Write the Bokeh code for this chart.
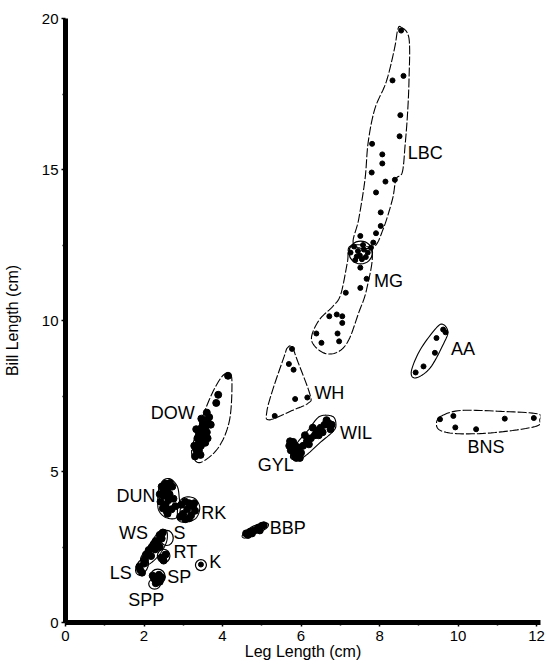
import numpy as np
from bokeh.plotting import figure
from bokeh.models import FixedTicker, Range1d
from bokeh.core.properties import value
from bokeh.embed import file_html
from bokeh.resources import INLINE

FONT = "Liberation Sans"

# ---------------- axis ticks ----------------
x_ticks = [0, 2, 4, 6, 8, 10, 12]
x_minor = [1, 3, 5, 7, 9, 11]
y_ticks = [0, 5, 10, 15, 20]
y_minor = [2.5, 7.5, 12.5, 17.5]

# ---------------- data points (leg length, bill length) ----------------
lbc_x = [8.55, 8.61, 8.33, 8.53, 8.51, 8.07, 8.07, 7.81, 7.80, 8.15, 8.39, 7.91, 8.03, 8.03, 7.91, 7.51, 7.84,
         7.78, 7.26, 7.55, 7.38, 7.45, 7.60, 7.35, 7.50, 7.65, 7.70, 7.42, 7.58]
lbc_y = [19.6, 18.1, 17.95, 16.8, 16.1, 15.5, 15.2, 15.85, 14.9, 14.6, 14.66, 14.24, 13.58, 13.13, 12.89, 12.8, 12.58,
         12.41, 12.25, 12.03, 12.0, 12.3, 12.35, 12.45, 12.15, 12.1, 12.25, 12.12, 12.5]
mg_x = [7.51, 7.67, 7.51, 7.14, 6.72, 6.91, 7.05, 7.05, 6.93, 6.39, 6.52, 6.97]
mg_y = [11.75, 11.38, 11.08, 10.92, 10.14, 10.2, 10.14, 9.92, 9.57, 9.57, 9.26, 9.31]
aa_x = [9.62, 9.45, 9.41, 9.12, 8.92, 9.68]
aa_y = [9.70, 9.42, 8.93, 8.48, 8.28, 9.61]
bns_x = [9.88, 9.54, 9.93, 10.46, 11.19, 11.93]
bns_y = [6.84, 6.73, 6.46, 6.40, 6.75, 6.77]
wh_x = [5.77, 5.69, 5.81, 5.85, 6.16, 5.33]
wh_y = [9.06, 8.56, 8.37, 7.40, 7.45, 6.84]
dow_x = [4.14, 3.89, 3.84, 3.30, 3.35, 3.32, 3.40, 3.38, 3.45, 3.42, 3.50, 3.48, 3.55, 3.40, 3.52, 3.60, 3.47,
         3.58, 3.62, 3.55, 3.66, 3.50, 3.60, 3.36, 3.44, 3.28, 3.33, 3.62, 3.70, 3.46, 3.56]
dow_y = [8.17, 7.54, 7.27, 5.50, 5.62, 5.75, 5.70, 5.90, 5.85, 6.05, 6.00, 6.20, 6.15, 6.25, 6.35, 6.30, 6.45,
         6.50, 6.65, 6.70, 6.80, 6.60, 6.95, 6.10, 5.55, 5.85, 6.40, 6.10, 6.55, 6.75, 5.95]
gyl_x = [5.72, 5.75, 5.80, 5.78, 5.85, 5.90, 5.82, 5.95, 5.88, 6.00, 5.92, 5.74, 5.97, 5.84, 5.70]
gyl_y = [6.00, 5.88, 5.98, 5.75, 5.85, 5.70, 5.60, 5.55, 5.45, 5.62, 5.80, 5.70, 5.45, 5.50, 5.85]
wil_x = [6.05, 6.15, 6.25, 6.35, 6.20, 6.40, 6.50, 6.45, 6.60, 6.55, 6.70, 6.65, 6.30, 6.10, 6.78, 6.75]
wil_y = [5.85, 6.00, 6.10, 6.20, 5.90, 6.35, 6.45, 6.20, 6.55, 6.30, 6.60, 6.70, 6.45, 6.20, 6.55, 6.40]
dun_x = [2.45, 2.55, 2.60, 2.50, 2.65, 2.72, 2.42, 2.55, 2.62, 2.75, 2.48, 2.70, 2.60, 2.80, 2.50, 2.66, 2.58, 2.40]
dun_y = [4.50, 4.60, 4.40, 4.20, 4.25, 4.50, 4.00, 3.90, 4.05, 4.10, 3.78, 3.75, 3.60, 3.85, 4.35, 4.62, 3.68, 4.25]
rk_x = [2.95, 3.05, 3.15, 3.25, 3.10, 3.30, 3.00, 3.20, 3.15, 2.92, 3.28, 3.05]
rk_y = [3.90, 4.00, 3.95, 3.85, 3.75, 3.70, 3.60, 3.55, 3.45, 3.50, 3.95, 3.42]
ws_x = [2.02, 2.10, 2.20, 2.30, 2.40, 2.35, 2.45, 2.18, 2.28, 2.48, 2.12, 2.40, 2.05, 2.25]
ws_y = [2.10, 2.30, 2.50, 2.70, 2.90, 2.60, 2.78, 2.20, 2.42, 2.98, 2.40, 2.50, 2.25, 2.60]
rt_x = [2.45, 2.55, 2.50]
rt_y = [2.15, 2.25, 2.05]
ls_x = [1.90, 2.00, 1.95, 2.02, 1.88]
ls_y = [1.75, 1.95, 1.65, 2.05, 1.85]
k_x = [3.45]
k_y = [1.92]
sp_x = [2.28, 2.38, 2.45, 2.30, 2.40, 2.22]
sp_y = [1.45, 1.58, 1.50, 1.30, 1.35, 1.55]
bbp_x = [4.60, 4.70, 4.80, 4.90, 5.00, 4.75, 4.95, 5.05, 4.65]
bbp_y = [2.95, 3.00, 3.05, 3.12, 3.20, 2.95, 3.05, 3.22, 2.90]

# ---------------- hand-drawn group outlines (vertices) ----------------
lbc_out_x = [8.54, 8.75, 8.75, 8.71, 8.65, 8.58, 8.42, 8.33, 8.09, 7.84, 7.34, 7.47, 7.63, 7.71, 7.88, 8.17, 8.38, 8.46]
lbc_out_y = [19.72, 19.34, 17.95, 16.79, 15.79, 14.91, 14.68, 14.02, 13.02, 12.43, 12.52, 13.36, 14.68, 15.90, 17.01, 17.90, 19.0, 19.61]
mg_out_x = [7.80, 7.67, 7.47, 7.22, 6.97, 6.64, 6.35, 6.27, 6.47, 6.81, 7.01, 7.18, 7.26]
mg_out_y = [12.30, 11.03, 10.26, 9.37, 8.98, 8.90, 9.15, 9.48, 10.03, 10.47, 10.86, 11.92, 12.47]
wh_out_x = [5.77, 5.90, 6.23, 6.19, 5.81, 5.19, 5.13, 5.28, 5.57, 5.65]
wh_out_y = [9.13, 8.70, 7.54, 7.27, 7.04, 6.71, 6.99, 7.71, 8.81, 9.09]
dow_out_x = [4.16, 4.24, 4.18, 3.91, 3.50, 3.29, 3.22, 3.46, 3.74, 3.99]
dow_out_y = [8.24, 7.98, 6.71, 5.82, 5.33, 5.38, 5.77, 6.71, 7.60, 8.15]
wil_out_x = [6.47, 6.81, 6.89, 6.81, 6.47, 6.14, 5.90, 5.73, 5.90, 6.19]
wil_out_y = [6.82, 6.82, 6.54, 6.32, 5.94, 5.55, 5.38, 5.49, 5.94, 6.38]
aa_out_x = [9.62, 9.74, 9.66, 9.29, 8.92, 8.81, 9.04, 9.45]
aa_out_y = [9.87, 9.64, 9.31, 8.43, 8.10, 8.32, 9.04, 9.76]
bns_out_x = [9.58, 10.07, 11.11, 12.02, 12.08, 11.97, 10.94, 10.03, 9.55, 9.45]
bns_out_y = [6.84, 7.02, 6.99, 6.91, 6.71, 6.49, 6.29, 6.25, 6.36, 6.60]
dun_out_x = [2.35, 2.38, 2.50, 2.68, 2.85, 2.90, 2.92, 2.80, 2.55, 2.38]
dun_out_y = [4.00, 4.45, 4.72, 4.75, 4.50, 4.10, 3.70, 3.45, 3.48, 3.70]
rk_out_x = [2.85, 2.88, 3.05, 3.30, 3.42, 3.32, 3.05, 2.88]
rk_out_y = [3.55, 3.95, 4.15, 4.10, 3.80, 3.45, 3.32, 3.38]
bbp_out_x = [4.50, 4.58, 4.80, 5.05, 5.17, 5.10, 4.85, 4.60]
bbp_out_y = [2.85, 3.02, 3.20, 3.30, 3.25, 3.10, 2.95, 2.80]
ws_out_x = [1.95, 1.92, 2.10, 2.30, 2.45, 2.58, 2.58, 2.45, 2.25, 2.05]
ws_out_y = [1.95, 2.15, 2.50, 2.88, 3.07, 3.02, 2.70, 2.35, 2.05, 1.88]

# small circled groups: centre x, centre y, width, height (data units), tilt
ring_x = [7.52, 2.58, 2.50, 1.95, 3.45, 2.35, 2.27]
ring_y = [12.25, 2.80, 2.20, 1.85, 1.90, 1.52, 1.28]
ring_w = [0.60, 0.33, 0.32, 0.28, 0.28, 0.38, 0.30]
ring_h = [0.75, 0.50, 0.45, 0.60, 0.36, 0.50, 0.35]
ring_a = [0.0, 0.0, 0.0, -0.5, 0.0, 0.0, 0.0]

# ---------------- group labels ----------------
label_text = ["LBC", "MG", "AA", "WH", "DOW", "WIL", "GYL", "BNS", "DUN", "RK",
              "WS", "S", "RT", "K", "LS", "SP", "SPP", "BBP"]
label_x = [8.72, 7.86, 9.82, 6.34, 2.17, 6.99, 4.90, 10.24, 1.30, 3.46,
           1.36, 2.75, 2.75, 3.66, 1.13, 2.59, 1.60, 5.20]
label_y = [15.55, 11.3, 9.04, 7.61, 6.94, 6.28, 5.22, 5.81, 4.19, 3.62,
           2.96, 2.96, 2.33, 2.0, 1.63, 1.5, 0.73, 3.12]


def smooth(xs, ys, n=10):
    P = np.column_stack([xs, ys]).astype(float)
    m = len(P)
    out = []
    for i in range(m):
        p0, p1, p2, p3 = P[(i - 1) % m], P[i], P[(i + 1) % m], P[(i + 2) % m]
        for t in np.linspace(0, 1, n, endpoint=False):
            t2, t3 = t * t, t * t * t
            out.append(0.5 * ((2 * p1) + (-p0 + p2) * t + (2 * p0 - 5 * p1 + 4 * p2 - p3) * t2
                              + (-p0 + 3 * p1 - 3 * p2 + p3) * t3))
    out.append(out[0])
    a = np.array(out)
    return a[:, 0].tolist(), a[:, 1].tolist()


p = figure(width=546, height=664, output_backend="svg", toolbar_location=None,
           x_range=Range1d(0, 12.1), y_range=Range1d(0, 20),
           min_border_left=60, min_border_right=6, min_border_top=18, min_border_bottom=42)
p.outline_line_color = None
p.xgrid.visible = False
p.ygrid.visible = False
p.background_fill_color = "white"

# outlines
dashed = [(lbc_out_x, lbc_out_y), (mg_out_x, mg_out_y), (dow_out_x, dow_out_y),
          (wh_out_x, wh_out_y), (bns_out_x, bns_out_y)]
solid = [(wil_out_x, wil_out_y), (aa_out_x, aa_out_y), (dun_out_x, dun_out_y),
         (rk_out_x, rk_out_y), (bbp_out_x, bbp_out_y), (ws_out_x, ws_out_y)]
dx, dy = zip(*[smooth(a, b) for a, b in dashed])
sx, sy = zip(*[smooth(a, b) for a, b in solid])
p.multi_line(list(dx), list(dy), line_color="black", line_width=1.1, line_dash="9 2")
p.multi_line(list(sx), list(sy), line_color="black", line_width=1.1)
p.ellipse(ring_x, ring_y, width=ring_w, height=ring_h, angle=ring_a,
          fill_color=None, line_color="black", line_width=1.2)

# points
sparse_x = lbc_x + mg_x + aa_x + bns_x + wh_x + k_x
sparse_y = lbc_y + mg_y + aa_y + bns_y + wh_y + k_y
dense_x = dow_x + gyl_x + wil_x + dun_x + rk_x + ws_x + rt_x + ls_x + sp_x + bbp_x
dense_y = dow_y + gyl_y + wil_y + dun_y + rk_y + ws_y + rt_y + ls_y + sp_y + bbp_y
p.scatter(sparse_x, sparse_y, marker="circle", size=5, color="black")
p.scatter(dense_x, dense_y, marker="circle", size=7, color="black")

p.text(label_x, label_y, text=label_text, text_font=value(FONT), text_font_size="18px",
       text_align="left", text_baseline="middle", text_color="black")

# axes
for ax in (p.xaxis[0], p.yaxis[0]):
    ax.axis_line_width = 5
    ax.axis_line_color = "black"
    ax.major_tick_line_color = "black"
    ax.minor_tick_line_color = "black"
    ax.major_tick_line_width = 1.5
    ax.minor_tick_line_width = 1.5
    ax.major_tick_in = 0
    ax.major_tick_out = 4
    ax.minor_tick_in = 0
    ax.minor_tick_out = 3
    ax.major_label_text_font = FONT
    ax.major_label_text_font_size = "15px"
    ax.major_label_text_color = "black"
    ax.axis_label_text_font = FONT
    ax.axis_label_text_font_size = "16px"
    ax.axis_label_text_font_style = "normal"
    ax.axis_label_text_color = "black"

p.xaxis.ticker = FixedTicker(ticks=x_ticks, minor_ticks=x_minor)
p.yaxis.ticker = FixedTicker(ticks=y_ticks, minor_ticks=y_minor)
p.xaxis.axis_label = "Leg Length (cm)"
p.yaxis.axis_label = "Bill Length (cm)"
p.xaxis.major_label_standoff = 4
p.xaxis.axis_label_standoff = -1
p.yaxis.major_label_standoff = 3
p.yaxis.axis_label_standoff = 18

open("out.html", "w").write(file_html(p, INLINE))
